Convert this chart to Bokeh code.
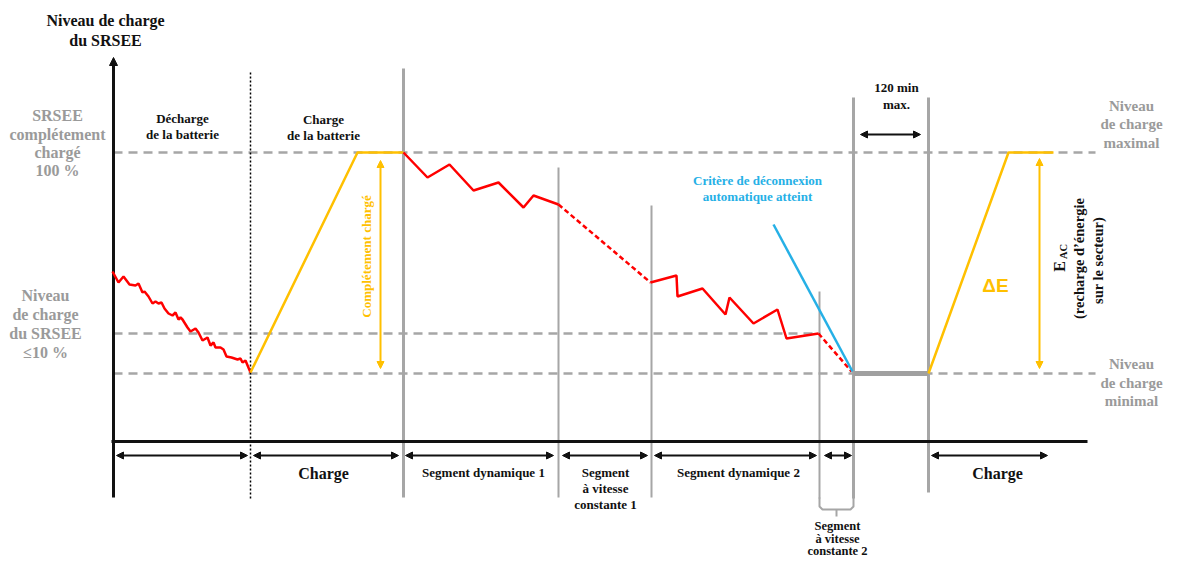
import math
from bokeh.plotting import figure
from bokeh.models import Range1d, Arrow, NormalHead, ColumnDataSource
from bokeh.core.properties import value
from bokeh.embed import file_html
from bokeh.resources import INLINE

# ---- data (diagram units = pixel-like positions, y grows downward) ----
discharge_x = [112, 118, 123, 129, 135, 138, 142, 144, 148, 152, 155, 158, 161, 164, 168, 172, 175,
               178, 180, 182, 187, 190, 195, 198, 202, 207, 210, 213, 215, 220, 223, 226, 231, 237,
               240, 242, 245, 250]
discharge_y = [271, 282, 276, 284, 285, 283, 292, 291, 296, 303, 301, 303, 302, 308, 313, 315, 312,
               319, 317, 319, 327, 331, 328, 332, 340, 337, 345, 342, 347, 347, 349, 356, 357, 359,
               358, 362, 360, 372]
charge1_x = [250, 357, 403]
charge1_y = [372, 152, 152]
dyn1_x = [403, 427, 449, 473, 498, 523, 533, 558]
dyn1_y = [152, 177, 164, 190, 182, 207, 195, 204]
const1_x = [558, 650]
const1_y = [204, 282]
dyn2_x = [650, 676, 677, 702, 725, 729, 753, 777, 786, 818]
dyn2_y = [282, 275, 296, 288, 314, 297, 323, 309, 338, 333]
const2_x = [818, 851]
const2_y = [333, 371]
blue_x = [773, 852]
blue_y = [224, 371]
rest_x = [853, 928]
rest_y = [373, 373]
charge2_x = [928, 1008, 1053]
charge2_y = [373, 152, 152]

level_y = [152, 333, 373]
level_x0 = [113, 113, 113]
level_x1 = [1095, 820, 1095]

vline_x = [403, 558, 651, 819, 853, 928]
vline_top = [68, 167, 205, 291, 97, 97]
vline_bot = [497, 497, 497, 498, 498, 492]
vline_w = [3, 2, 2, 2, 3, 3]

seg_x0 = [116, 253, 405, 562, 654, 824, 931]
seg_x1 = [247, 398, 553, 647, 816, 851, 1047]
seg_y = 455

seg_labels = ["Charge", "Segment dynamique 1", "Segment", "à vitesse", "constante 1",
              "Segment dynamique 2", "Charge", "Segment", "à vitesse", "constante 2"]
seg_lx = [323, 483, 605, 605, 605, 738, 997, 837, 837, 837]
seg_ly = [473, 472, 472, 488, 504, 472, 473, 525, 538, 550]
seg_fs = ["16px", "13px", "13px", "13px", "13px", "13px", "16px", "12.5px", "12.5px", "12.5px"]

left_labels = ["SRSEE", "complétement", "chargé", "100 %", "Niveau", "de charge", "du SRSEE", "≤10 %"]
left_lx = [57, 57, 57, 57, 45, 45, 45, 45]
left_ly = [115, 134, 152, 170, 295, 314, 333, 352]

right_labels = ["Niveau", "de charge", "maximal", "Niveau", "de charge", "minimal"]
right_lx = [1131] * 6
right_ly = [105, 123, 142, 363, 382, 400]

top_labels = ["Niveau de charge", "du SRSEE", "Décharge", "de la batterie", "Charge",
              "de la batterie", "120 min", "max."]
top_lx = [105, 105, 182, 182, 323, 323, 896, 896]
top_ly = [20, 40, 118, 134, 119, 135, 87, 104]
top_fs = ["16px", "16px", "13px", "13px", "13px", "13px", "13px", "13px"]

blue_labels = ["Critère de déconnexion", "automatique atteint"]
blue_lx = [757, 757]
blue_ly = [180, 196]

eac_labels = ["(recharge d\u2019énergie", "sur le secteur)"]
eac_lx = [1078, 1097]
eac_ly = [258, 260]

RED = "#ff0000"
YEL = "#ffc000"
BLUE = "#26b0e6"
GRAY = "#a6a6a6"
GTXT = "#9a9a9a"
SERIF = value("Liberation Serif")

p = figure(width=1164, height=556, x_range=Range1d(0, 1164), y_range=Range1d(556, 0),
           output_backend="svg", toolbar_location=None, min_border=0,
           x_axis_location=None, y_axis_location=None)
p.grid.visible = False
p.outline_line_color = None
p.background_fill_color = "white"

# dashed level lines
p.segment(x0=level_x0, y0=level_y, x1=level_x1, y1=level_y, line_color=GRAY,
          line_width=2.5, line_dash="9 6")

# vertical separators
p.segment(x0=vline_x, y0=vline_top, x1=vline_x, y1=vline_bot, line_color=GRAY,
          line_width=vline_w)
# bracket under constant segment 2
p.multi_line(xs=[[819, 819, 822, 850, 853, 853], [836, 836]],
             ys=[[497, 506, 509, 509, 506, 497], [509, 516]],
             line_color=GRAY, line_width=2)
# dotted black separator
p.segment(x0=[250], y0=[72], x1=[250], y1=[500], line_color="black", line_width=1.5,
          line_dash="2 2")

# axes
p.segment(x0=[113, 111], y0=[62, 441], x1=[113, 1087], y1=[497, 441], line_color="#111111",
          line_width=3)
p.add_layout(Arrow(x_start=113, y_start=70, x_end=113, y_end=57, line_color="#111111",
                   line_width=3, end=NormalHead(size=8, fill_color="#111111", line_color="#111111")))

# curves
p.line(discharge_x, discharge_y, line_color=RED, line_width=2.5)
p.line(charge1_x, charge1_y, line_color=YEL, line_width=2.5)
p.line(dyn1_x, dyn1_y, line_color=RED, line_width=2.5)
p.line(const1_x, const1_y, line_color=RED, line_width=2.5, line_dash="5 3")
p.line(dyn2_x, dyn2_y, line_color=RED, line_width=2.5)
p.line(const2_x, const2_y, line_color=RED, line_width=2.5, line_dash="5 3")
p.line(blue_x, blue_y, line_color=BLUE, line_width=2.5)
p.line(rest_x, rest_y, line_color="#a0a0a0", line_width=5)
p.line(charge2_x, charge2_y, line_color=YEL, line_width=2.5)

# yellow double arrows
ysrc = ColumnDataSource(dict(x0=[380, 1039], y0=[160, 158], x1=[380, 1039], y1=[368, 368]))
p.add_layout(Arrow(source=ysrc, x_start="x0", y_start="y0", x_end="x1", y_end="y1",
                   line_color=YEL, line_width=2,
                   start=NormalHead(size=7, fill_color=YEL, line_color=YEL),
                   end=NormalHead(size=7, fill_color=YEL, line_color=YEL)))

# black segment arrows
ssrc = ColumnDataSource(dict(x0=seg_x0 + [860], x1=seg_x1 + [920],
                             y=[seg_y] * len(seg_x0) + [134]))
p.add_layout(Arrow(source=ssrc, x_start="x0", y_start="y", x_end="x1", y_end="y",
                   line_color="#111111", line_width=2,
                   start=NormalHead(size=7, fill_color="#111111", line_color="#111111"),
                   end=NormalHead(size=7, fill_color="#111111", line_color="#111111")))

# texts
p.text(x=seg_lx, y=seg_ly, text=seg_labels, text_font=SERIF, text_font_style="bold",
       text_font_size=seg_fs, text_align="center", text_baseline="middle", text_color="#111111")
p.text(x=top_lx, y=top_ly, text=top_labels, text_font=SERIF, text_font_style="bold",
       text_font_size=top_fs, text_align="center", text_baseline="middle", text_color="#111111")
p.text(x=left_lx, y=left_ly, text=left_labels, text_font=SERIF, text_font_style="bold",
       text_font_size="16px", text_align="center", text_baseline="middle", text_color=GTXT)
p.text(x=right_lx, y=right_ly, text=right_labels, text_font=SERIF, text_font_style="bold",
       text_font_size="15px", text_align="center", text_baseline="middle", text_color=GTXT)
p.text(x=blue_lx, y=blue_ly, text=blue_labels, text_font=SERIF, text_font_style="bold",
       text_font_size="13px", text_align="center", text_baseline="middle", text_color=BLUE)

# rotated labels
p.text(x=[366], y=[256], text=["Complétement chargé"], angle=math.pi / 2, text_font=SERIF,
       text_font_style="bold", text_font_size="13px", text_align="center",
       text_baseline="middle", text_color=YEL)
p.text(x=eac_lx, y=eac_ly, text=eac_labels, angle=math.pi / 2, text_font=SERIF,
       text_font_style="bold", text_font_size="14.5px", text_align="center",
       text_baseline="middle", text_color="#111111")
p.text(x=[1059], y=[266], text=["E"], angle=math.pi / 2, text_font=SERIF,
       text_font_style="bold", text_font_size="16px", text_align="center",
       text_baseline="middle", text_color="#111111")
p.text(x=[1063], y=[251], text=["AC"], angle=math.pi / 2, text_font=SERIF,
       text_font_style="bold", text_font_size="10.5px", text_align="center",
       text_baseline="middle", text_color="#111111")
p.text(x=[995], y=[285], text=["ΔE"], text_font=value("Liberation Sans"),
       text_font_style="bold", text_font_size="19px", text_align="center",
       text_baseline="middle", text_color=YEL)

open("out.html", "w").write(file_html(p, INLINE))
